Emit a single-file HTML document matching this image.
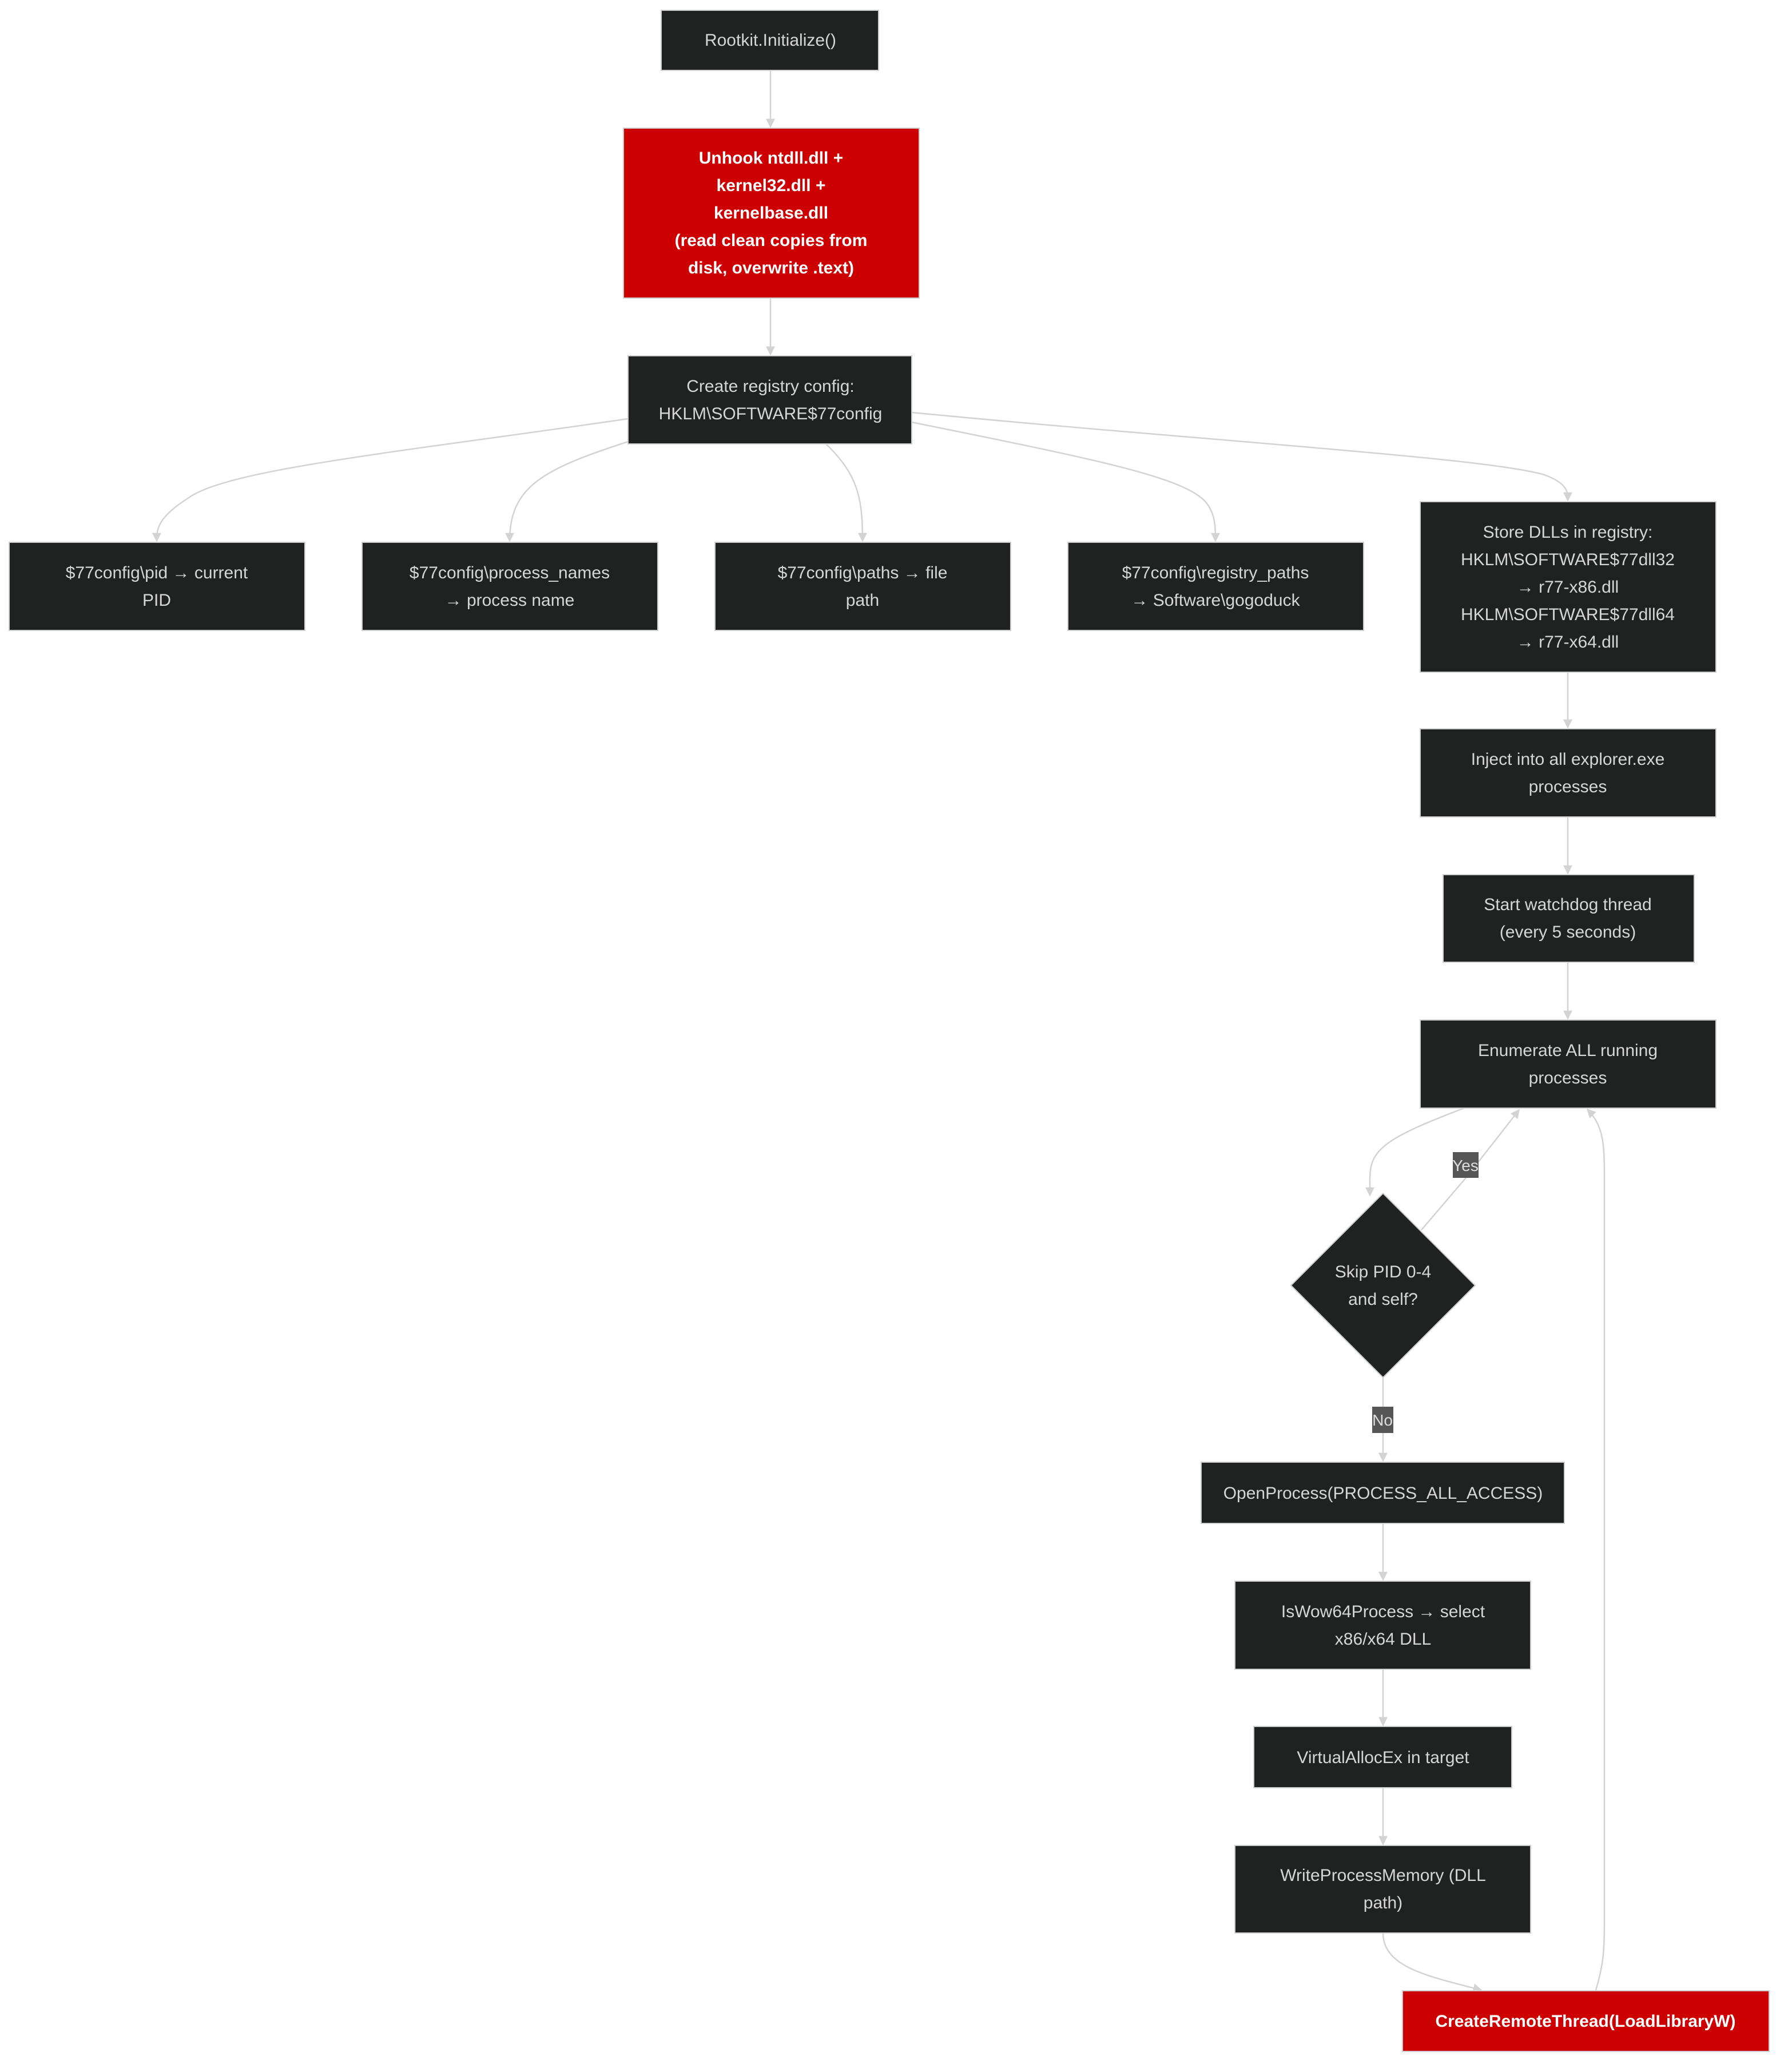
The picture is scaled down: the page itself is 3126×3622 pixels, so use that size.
<!DOCTYPE html>
<html><head><meta charset="utf-8"><style>
html,body{margin:0;padding:0;background:#fff;}
svg{display:block;}
text{font-family:"Liberation Sans","DejaVu Sans",sans-serif;font-size:30px;fill:#d6d6d6;text-anchor:middle;}
.w{fill:#fff;font-weight:bold;}
.n{fill:#202121;stroke:#cfcfcf;stroke-width:2;}
.r{fill:#cc0000;stroke:#cfcfcf;stroke-width:2;}
.e{fill:none;stroke:#d3d3d3;stroke-width:2.5;}
</style></head><body>
<svg width="3126" height="3622" viewBox="0 0 3126 3622" xmlns="http://www.w3.org/2000/svg">
<defs><marker id="a" viewBox="0 0 10 10" refX="9" refY="5" markerWidth="18" markerHeight="16" markerUnits="userSpaceOnUse" orient="auto"><path d="M0,0L10,5L0,10z" fill="#d3d3d3"/></marker></defs>
<g marker-end="url(#a)">
<path class="e" d="M1347,123 V222"/>
<path class="e" d="M1347,521 V620"/>
<path class="e" d="M1098,732 C700,790 400,820 330,870 C275,905 274,925 274,946"/>
<path class="e" d="M1098,772 C950,820 891,850 891,946"/>
<path class="e" d="M1444,776 C1500,830 1508,870 1508,946"/>
<path class="e" d="M1594,738 C1900,800 2050,830 2100,870 C2125,890 2125,920 2125,946"/>
<path class="e" d="M1594,721 C2100,770 2600,800 2700,830 C2741,845 2741,860 2741,875"/>
<path class="e" d="M2741,1175 V1272"/>
<path class="e" d="M2741,1428 V1527"/>
<path class="e" d="M2741,1682 V1781"/>
<path class="e" d="M2560,1937 C2420,1990 2395,2010 2395,2060 L2395,2090"/>
<path class="e" d="M2485,2150 L2562,2060 L2656,1940"/>
<path class="e" d="M2418,2408 V2554"/>
<path class="e" d="M2418,2663 V2762"/>
<path class="e" d="M2418,2918 V3016"/>
<path class="e" d="M2418,3125 V3224"/>
<path class="e" d="M2418,3379 C2418,3440 2500,3455 2590,3479"/>
<path class="e" d="M2790,3479 C2805,3430 2805,3400 2805,3350 L2805,2050 C2805,1990 2800,1965 2775,1939"/>
</g>
<rect x="2540" y="2014" width="45" height="45" fill="#555"/>
<text x="2562" y="2047" style="font-size:28px;fill:#ddd">Yes</text>
<rect x="2399" y="2459" width="37" height="46" fill="#555"/>
<text x="2417" y="2492" style="font-size:28px;fill:#ddd">No</text>

<rect class="n" x="1156" y="18" width="380" height="105"/>
<text x="1347" y="80">Rootkit.Initialize()</text>
<rect class="r" x="1090" y="224" width="517" height="297"/>
<text class="w" x="1348" y="286">Unhook ntdll.dll +</text>
<text class="w" x="1348" y="334">kernel32.dll +</text>
<text class="w" x="1348" y="382">kernelbase.dll</text>
<text class="w" x="1348" y="430">(read clean copies from</text>
<text class="w" x="1348" y="478">disk, overwrite .text)</text>
<rect class="n" x="1098" y="622" width="496" height="154"/>
<text x="1347" y="685">Create registry config:</text>
<text x="1347" y="733">HKLM\SOFTWARE$77config</text>

<rect class="n" x="16" y="948" width="517" height="154"/>
<text x="274" y="1011">$77config\pid → current</text>
<text x="274" y="1059">PID</text>
<rect class="n" x="633" y="948" width="517" height="154"/>
<text x="891" y="1011">$77config\process_names</text>
<text x="891" y="1059">→ process name</text>
<rect class="n" x="1250" y="948" width="517" height="154"/>
<text x="1508" y="1011">$77config\paths → file</text>
<text x="1508" y="1059">path</text>
<rect class="n" x="1867" y="948" width="517" height="154"/>
<text x="2125" y="1011">$77config\registry_paths</text>
<text x="2125" y="1059">→ Software\gogoduck</text>

<rect class="n" x="2483" y="877" width="517" height="298"/>
<text x="2741" y="940">Store DLLs in registry:</text>
<text x="2741" y="988">HKLM\SOFTWARE$77dll32</text>
<text x="2741" y="1036">→ r77-x86.dll</text>
<text x="2741" y="1084">HKLM\SOFTWARE$77dll64</text>
<text x="2741" y="1132">→ r77-x64.dll</text>
<rect class="n" x="2483" y="1274" width="517" height="154"/>
<text x="2741" y="1337">Inject into all explorer.exe</text>
<text x="2741" y="1385">processes</text>
<rect class="n" x="2523" y="1529" width="439" height="153"/>
<text x="2741" y="1591">Start watchdog thread</text>
<text x="2741" y="1639">(every 5 seconds)</text>
<rect class="n" x="2483" y="1783" width="517" height="154"/>
<text x="2741" y="1846">Enumerate ALL running</text>
<text x="2741" y="1894">processes</text>

<polygon class="n" points="2418,2086 2579,2247 2418,2408 2257,2247"/>
<text x="2418" y="2233">Skip PID 0-4</text>
<text x="2418" y="2281">and self?</text>

<rect class="n" x="2100" y="2556" width="635" height="107"/>
<text x="2418" y="2620">OpenProcess(PROCESS_ALL_ACCESS)</text>
<rect class="n" x="2159" y="2764" width="517" height="154"/>
<text x="2418" y="2827">IsWow64Process → select</text>
<text x="2418" y="2875">x86/x64 DLL</text>
<rect class="n" x="2192" y="3018" width="451" height="107"/>
<text x="2418" y="3082">VirtualAllocEx in target</text>
<rect class="n" x="2159" y="3226" width="517" height="153"/>
<text x="2418" y="3288">WriteProcessMemory (DLL</text>
<text x="2418" y="3336">path)</text>
<rect class="r" x="2452" y="3480" width="641" height="106"/>
<text class="w" x="2772" y="3543">CreateRemoteThread(LoadLibraryW)</text>
</svg>
</body></html>
